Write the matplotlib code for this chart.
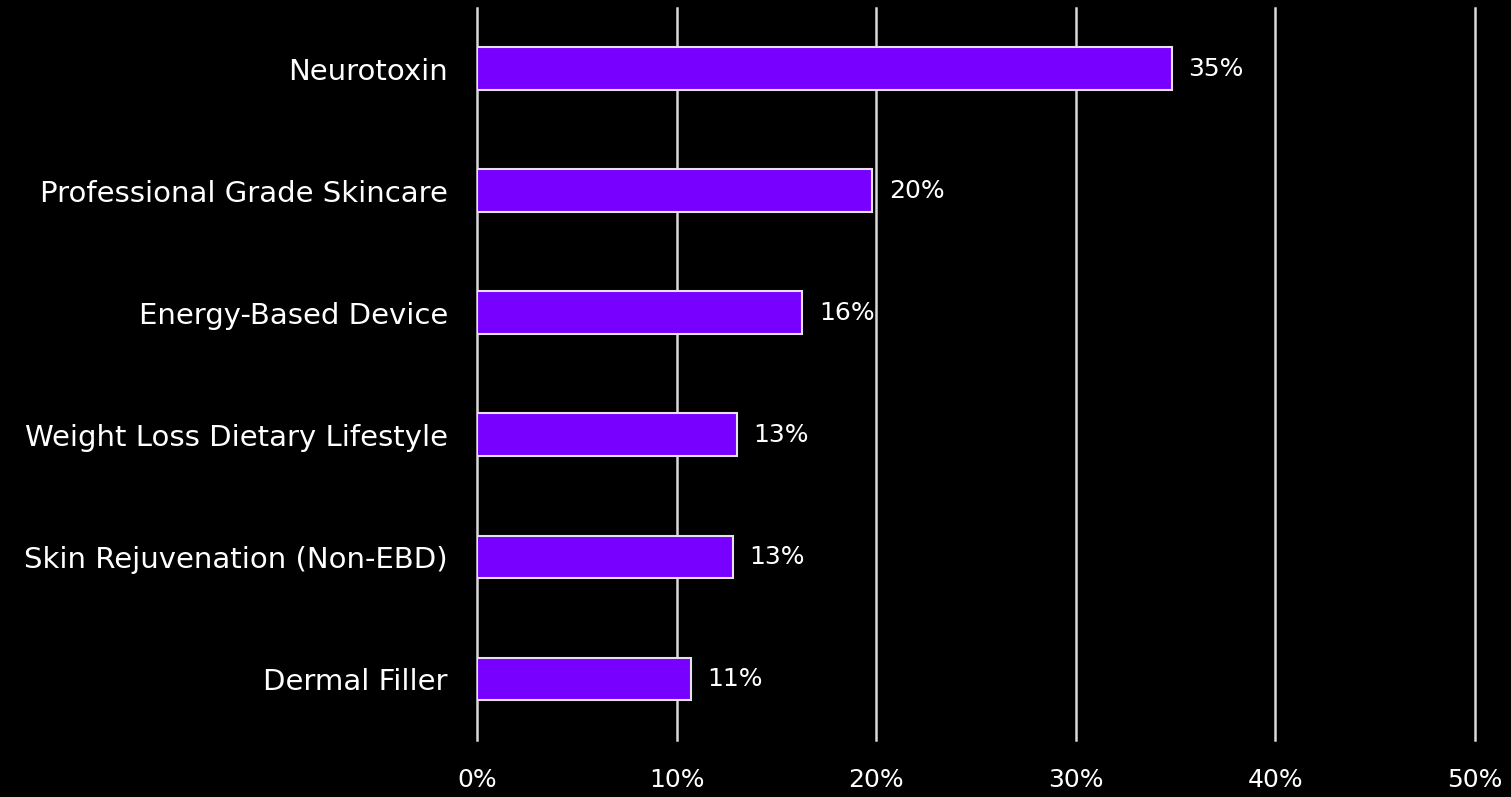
import matplotlib
matplotlib.use("Agg")
import matplotlib.pyplot as plt

categories = [
    "Neurotoxin",
    "Professional Grade Skincare",
    "Energy-Based Device",
    "Weight Loss Dietary Lifestyle",
    "Skin Rejuvenation (Non-EBD)",
    "Dermal Filler",
]
values = [34.8, 19.8, 16.3, 13.0, 12.8, 10.7]
value_labels = ["35%", "20%", "16%", "13%", "13%", "11%"]
x_ticks = [0, 10, 20, 30, 40, 50]
x_tick_labels = ["0%", "10%", "20%", "30%", "40%", "50%"]

plt.rcParams["font.family"] = ["DejaVu Sans"]

fig = plt.figure(figsize=(15.11, 7.97), dpi=100, facecolor="black")
ax = fig.add_axes([0.3157, 0.0715, 0.6605, 0.919])
ax.set_facecolor("black")

y = list(range(len(categories)))
ax.barh(y, values, height=0.35, color="#7700ff", edgecolor="#e6e0f0", linewidth=1.5, zorder=3)

for yi, v, lab in zip(y, values, value_labels):
    ax.text(v + 0.85, yi, lab, va="center", ha="left", color="white", fontsize=18)

ax.set_xlim(0, 50)
ax.set_ylim(5.5, -0.5)
ax.set_yticks(y)
ax.set_yticklabels(categories, fontsize=21)
ax.set_xticks(x_ticks)
ax.set_xticklabels(x_tick_labels, fontsize=18)
ax.tick_params(axis="both", length=0, colors="white")
ax.tick_params(axis="y", pad=21)
ax.tick_params(axis="x", pad=20)

ax.grid(axis="x", color="#d9d9d9", linewidth=1.8, zorder=0)
ax.grid(axis="y", visible=False)
# keep the last gridline (50%) full width at the edge
for gl in ax.get_xgridlines():
    gl.set_clip_on(False)
for s in ax.spines.values():
    s.set_visible(False)

fig.savefig("out.png", dpi=100, facecolor="black")
